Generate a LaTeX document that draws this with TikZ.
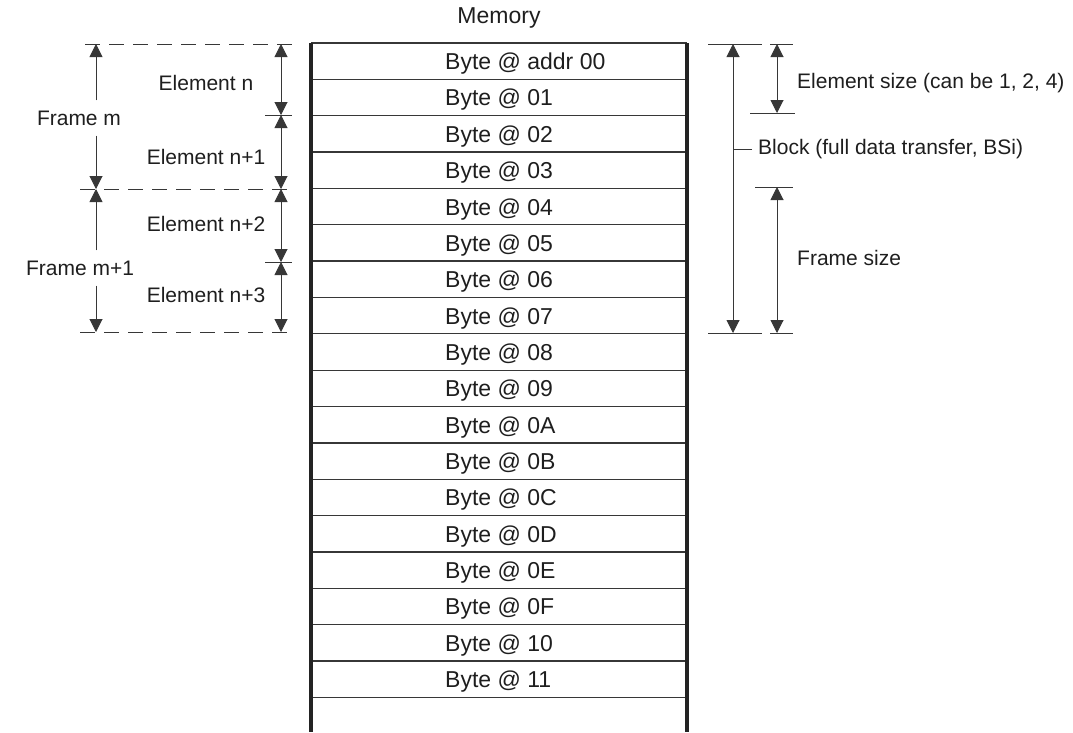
\documentclass[tikz,border=0pt]{standalone}
\usepackage{fontspec}
\setmainfont{Liberation Sans}
\usetikzlibrary{arrows.meta}
\definecolor{memline}{RGB}{55,55,55}
\definecolor{memedge}{RGB}{35,35,35}
\definecolor{memtext}{RGB}{30,30,30}

\begin{document}
\begin{tikzpicture}[x=1pt,y=-1pt,
  dimline/.style={line width=1pt, draw=memline},
  dimarrow/.style={dimline, {Triangle[length=13pt,width=13pt]}-{Triangle[length=13pt,width=13pt]}},
  halfarrow/.style={dimline, -{Triangle[length=13pt,width=13pt]}},
  guide/.style={dimline, dash pattern=on 15pt off 9pt},
  bytelbl/.style={anchor=west, inner sep=0pt, text=memtext, font=\fontsize{23}{27}\selectfont},
  notelbl/.style={inner sep=0pt, text=memtext, font=\fontsize{21}{25}\selectfont}]
\useasboundingbox (0,0) rectangle (1073,732);
% Memory column
\node[notelbl, font=\fontsize{23}{27}\selectfont] (mem) at (499,18) {Memory};
\foreach \k in {0,...,18} {
  \pgfmathsetmacro\yr{43+36.35*\k}
  \draw[line width=1.3pt, memline] (311,\yr) -- (687,\yr);
}
\draw[line width=4pt, memedge] (311,43) -- (311,732);
\draw[line width=4pt, memedge] (687,43) -- (687,732);
\foreach \lbl [count=\i from 0] in {addr 00,01,02,03,04,05,06,07,08,09,0A,0B,0C,0D,0E,0F,10,11} {
  \pgfmathsetmacro\yc{45.5+36.35*(\i+0.5)}
  \node[bytelbl] (b\i) at (445,\yc) {Byte @ \lbl};
}
% Guides on the left
\draw[guide] (85,44) -- (292,44);
\draw[guide] (80,189) -- (292,189);
\draw[guide] (80,332) -- (292,332);
% Elements
\foreach \y [count=\k from 0] in {44,115,189,262,332}
  \coordinate (e\k) at (281,\y);
\foreach \k/\j in {0/1,1/2,2/3,3/4}
  \draw[dimarrow] (e\k) -- (e\j);
\draw[dimline] ([xshift=-16pt]e1) -- ([xshift=11pt]e1);
\draw[dimline] ([xshift=-16pt]e3) -- ([xshift=11pt]e3);
\node[notelbl] (el0) at (206,83) {Element n};
\node[notelbl] (el1) at (206,157) {Element n+1};
\node[notelbl] (el2) at (206,224) {Element n+2};
\node[notelbl] (el3) at (206,295) {Element n+3};
% Frames
\coordinate (f0) at (96,44);
\coordinate (f1) at (96,189);
\coordinate (f2) at (96,332);
\node[notelbl, minimum height=35pt] (fm0) at (79,118) {Frame m};
\node[notelbl, minimum height=35pt] (fm1) at (80,268) {Frame m+1};
\draw[halfarrow] (fm0.north -| f0) -- (f0);
\draw[halfarrow] (fm0.south -| f0) -- (f1);
\draw[halfarrow] (fm1.north -| f0) -- (f1);
\draw[halfarrow] (fm1.south -| f0) -- (f2);
% Sizes on the right
\coordinate (bt) at (733,44);
\coordinate (bb) at (733,333);
\coordinate (st) at (777,44);
\coordinate (sb) at (777,113);
\coordinate (ft) at (777,187);
\coordinate (fb) at (777,333);
\draw[dimline] (708,44) -- (762,44);
\draw[dimline] (770,44) -- (793,44);
\draw[dimline] (750,113) -- (795,113);
\draw[dimline] (755,187) -- (793,187);
\draw[dimline] (708,333) -- (762,333);
\draw[dimline] (770,333) -- (793,333);
\draw[dimarrow] (bt) -- (bb);
\draw[dimarrow] (st) -- (sb);
\draw[dimarrow] (ft) -- (fb);
\node[notelbl, anchor=west] (esz) at (797,83) {Element size (can be 1, 2, 4)};
\node[notelbl, anchor=west] (blk) at (758,149) {Block (full data transfer, BSi)};
\node[notelbl, anchor=west] (fsz) at (797,258) {Frame size};
\draw[dimline] ([xshift=-6pt]blk.west) -- (blk.west -| bt);
\end{tikzpicture}
\end{document}
